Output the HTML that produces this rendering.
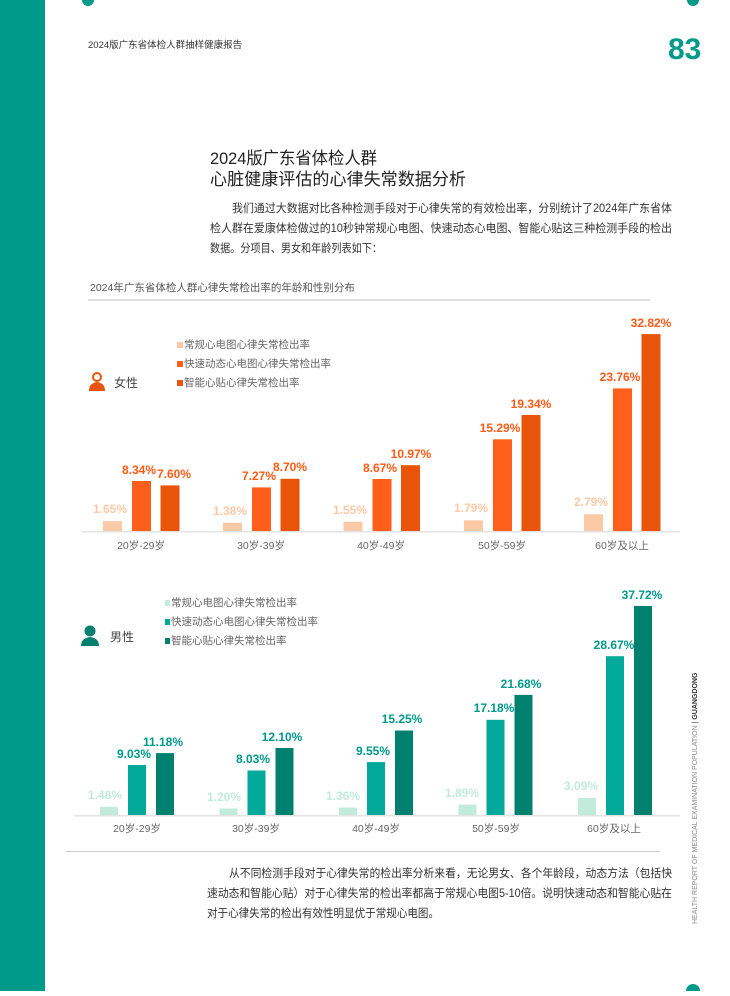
<!DOCTYPE html>
<html><head><meta charset="utf-8"><style>
html,body{margin:0;padding:0;background:#fff}
svg text{font-family:"Liberation Sans","Noto Sans CJK SC",sans-serif}
</style></head><body>
<svg width="730" height="991" viewBox="0 0 730 991" xmlns="http://www.w3.org/2000/svg">
<rect x="0" y="0" width="45" height="991" fill="#009a8a"/>
<circle cx="88" cy="0" r="6" fill="#009a8a"/>
<circle cx="693" cy="0" r="6" fill="#009a8a"/>
<circle cx="693" cy="991" r="7" fill="#009a8a"/>
<text x="88" y="48" font-size="9.5" fill="#333">2024版广东省体检人群抽样健康报告</text>
<text x="668" y="59" font-size="30" font-weight="bold" fill="#009a8a">83</text>
<text x="210" y="164" font-size="17" fill="#222" textLength="167" lengthAdjust="spacingAndGlyphs">2024版广东省体检人群</text>
<text x="210" y="185" font-size="17" fill="#222" textLength="256" lengthAdjust="spacingAndGlyphs">心脏健康评估的心律失常数据分析</text>
<g font-size="11.5" fill="#333">
<text x="232" y="212" textLength="440" lengthAdjust="spacingAndGlyphs">我们通过大数据对比各种检测手段对于心律失常的有效检出率，分别统计了2024年广东省体</text>
<text x="210" y="232" textLength="462" lengthAdjust="spacingAndGlyphs">检人群在爱康体检做过的10秒钟常规心电图、快速动态心电图、智能心贴这三种检测手段的检出</text>
<text x="210" y="252" textLength="172" lengthAdjust="spacingAndGlyphs">数据。分项目、男女和年龄列表如下：</text>
</g>
<text x="90" y="291" font-size="10.5" fill="#555">2024年广东省体检人群心律失常检出率的年龄和性别分布</text>
<rect x="88" y="299" width="562" height="2" fill="#ddd"/>
<!-- female legend -->
<rect x="177" y="342" width="6" height="6" fill="#fcc9a6"/>
<text x="184" y="348" font-size="10.5" fill="#666">常规心电图心律失常检出率</text>
<rect x="177" y="361" width="6" height="6" fill="#ff5f1a"/>
<text x="184" y="367" font-size="10.5" fill="#666">快速动态心电图心律失常检出率</text>
<rect x="177" y="380" width="6" height="6" fill="#e8540a"/>
<text x="184" y="386" font-size="10.5" fill="#666">智能心贴心律失常检出率</text>
<g fill="#e8540a"><circle cx="97" cy="377" r="5"/><path d="M89 391 Q89 383 97 382 Q105 383 105 391 Z"/></g>
<circle cx="97" cy="377" r="3" fill="#fff"/>
<text x="114" y="387" font-size="12" fill="#444">女性</text>
<!-- female bars -->
<rect x="82" y="531" width="598" height="1.5" fill="#e3e3e3"/>
<g fill="#fcc9a6"><rect x="103" y="521.1" width="19" height="9.9"/><rect x="223" y="522.7" width="19" height="8.3"/><rect x="343.5" y="521.7" width="19" height="9.3"/><rect x="464" y="520.3" width="19" height="10.7"/><rect x="584" y="514.3" width="19" height="16.7"/></g>
<g fill="#ff5f1a"><rect x="132" y="481" width="19" height="50"/><rect x="252" y="487.4" width="19" height="43.6"/><rect x="372.5" y="479" width="19" height="52"/><rect x="493" y="439.3" width="19" height="91.7"/><rect x="613" y="388.4" width="19" height="142.6"/></g>
<g fill="#e8540a"><rect x="160.5" y="485.4" width="19" height="45.6"/><rect x="280.5" y="478.8" width="19" height="52.2"/><rect x="401" y="465.2" width="19" height="65.8"/><rect x="521.5" y="415" width="19" height="116"/><rect x="641.5" y="334.1" width="19" height="196.9"/></g>
<g font-size="12" font-weight="bold" text-anchor="middle" fill="#fcc9a6">
<text x="110" y="513">1.65%</text><text x="230" y="515">1.38%</text><text x="350" y="514">1.55%</text><text x="471" y="512">1.79%</text><text x="591" y="506">2.79%</text></g>
<g font-size="12" font-weight="bold" text-anchor="middle" fill="#ff5a14">
<text x="139" y="474">8.34%</text><text x="259" y="480">7.27%</text><text x="380" y="472">8.67%</text><text x="500" y="432">15.29%</text><text x="620" y="381">23.76%</text>
<text x="174" y="478">7.60%</text><text x="290" y="471">8.70%</text><text x="411" y="458">10.97%</text><text x="531" y="408">19.34%</text><text x="651" y="327">32.82%</text></g>
<g font-size="10.5" fill="#666" text-anchor="middle">
<text x="141" y="549">20岁-29岁</text><text x="261" y="549">30岁-39岁</text><text x="381" y="549">40岁-49岁</text><text x="502" y="549">50岁-59岁</text><text x="622" y="549">60岁及以上</text></g>
<!-- male legend -->
<rect x="165" y="600" width="5" height="6" fill="#c3ebdc"/>
<text x="171" y="606" font-size="10.5" fill="#666">常规心电图心律失常检出率</text>
<rect x="165" y="619" width="5" height="6" fill="#00a99a"/>
<text x="171" y="625" font-size="10.5" fill="#666">快速动态心电图心律失常检出率</text>
<rect x="165" y="638" width="5" height="6" fill="#00806f"/>
<text x="171" y="644" font-size="10.5" fill="#666">智能心贴心律失常检出率</text>
<g fill="#00806f"><circle cx="90" cy="631" r="5.5"/><path d="M81 646 Q81 638 90 637 Q99 638 99 646 Z"/></g>
<text x="110" y="641" font-size="12" fill="#444">男性</text>
<!-- male bars -->
<rect x="74" y="815" width="606" height="1.5" fill="#e3e3e3"/>
<g fill="#c3ebdc"><rect x="100" y="806.8" width="18" height="8.2"/><rect x="219.5" y="808.4" width="18" height="6.6"/><rect x="339" y="807.5" width="18" height="7.5"/><rect x="458.5" y="804.5" width="18" height="10.5"/><rect x="578" y="797.9" width="18" height="17.1"/></g>
<g fill="#00a99a"><rect x="128" y="765" width="18" height="50"/><rect x="247.5" y="770.5" width="18" height="44.5"/><rect x="367" y="762.1" width="18" height="52.9"/><rect x="486.5" y="719.8" width="18" height="95.2"/><rect x="606" y="656.2" width="18" height="158.8"/></g>
<g fill="#00806f"><rect x="156" y="753.1" width="18" height="61.9"/><rect x="275.5" y="748" width="18" height="67"/><rect x="395" y="730.5" width="18" height="84.5"/><rect x="514.5" y="694.9" width="18" height="120.1"/><rect x="634" y="606" width="18" height="209"/></g>
<g font-size="12" font-weight="bold" text-anchor="middle" fill="#c3ebdc">
<text x="105" y="799">1.48%</text><text x="224" y="801">1.20%</text><text x="343" y="800">1.36%</text><text x="462" y="797">1.89%</text><text x="581" y="790">3.09%</text></g>
<g font-size="12" font-weight="bold" text-anchor="middle" fill="#00998a">
<text x="134" y="758">9.03%</text><text x="253" y="763">8.03%</text><text x="373" y="755">9.55%</text><text x="494" y="712">17.18%</text><text x="614" y="649">28.67%</text>
<text x="163" y="746">11.18%</text><text x="282" y="741">12.10%</text><text x="402" y="723">15.25%</text><text x="521" y="688">21.68%</text><text x="642" y="599">37.72%</text></g>
<g font-size="10.5" fill="#666" text-anchor="middle">
<text x="137" y="832">20岁-29岁</text><text x="256" y="832">30岁-39岁</text><text x="376" y="832">40岁-49岁</text><text x="496" y="832">50岁-59岁</text><text x="614" y="832">60岁及以上</text></g>
<rect x="66" y="851" width="594" height="1" fill="#ccc"/>
<g font-size="11.5" fill="#333">
<text x="229" y="877" textLength="443" lengthAdjust="spacingAndGlyphs">从不同检测手段对于心律失常的检出率分析来看，无论男女、各个年龄段，动态方法（包括快</text>
<text x="207" y="897" textLength="465" lengthAdjust="spacingAndGlyphs">速动态和智能心贴）对于心律失常的检出率都高于常规心电图5-10倍。说明快速动态和智能心贴在</text>
<text x="207" y="917" textLength="232" lengthAdjust="spacingAndGlyphs">对于心律失常的检出有效性明显优于常规心电图。</text>
</g>
<text transform="translate(697,924) rotate(-90)" font-size="7" fill="#888">HEALTH REPORT OF MEDICAL EXAMINATION POPULATION <tspan fill="#333">|</tspan> <tspan font-weight="bold" fill="#333">GUANGDONG</tspan></text>
</svg>
</body></html>
